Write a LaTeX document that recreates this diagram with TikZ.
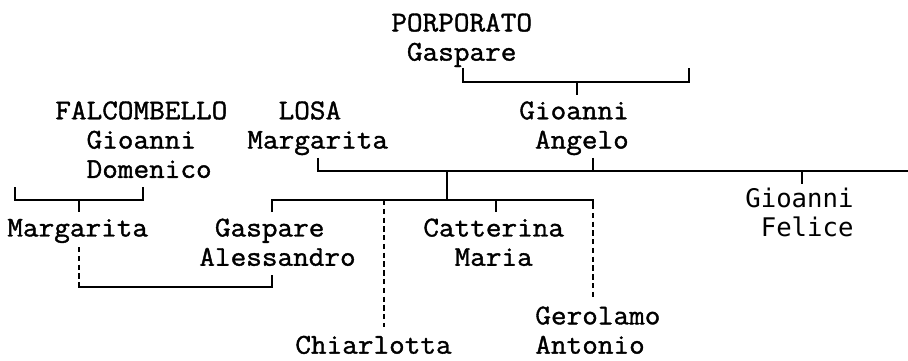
\documentclass[tikz,border=0pt]{standalone}
\usepackage{fontspec}
\newfontfamily\famf[FakeStretch=1.06,FakeBold=1.3]{Latin Modern Mono}
\newfontfamily\felf{DejaVu Sans Mono}
\begin{document}
\begin{tikzpicture}[x=0.02cm,y=-0.02cm,
  person/.style={anchor=north west,inner sep=0pt,align=left,
    font=\famf\fontsize{16.3pt}{16.675pt}\selectfont},
  personb/.style={anchor=north west,inner sep=0pt,align=left,
    font=\felf\fontsize{14.6pt}{16.675pt}\selectfont},
  conn/.style={line width=0.85pt},
  dconn/.style={line width=0.85pt,dash pattern=on 3pt off 2pt}]
\useasboundingbox (0,0) rectangle (908,361);
% people (top of node = first baseline - 20.5)
\node[person] (porporato) at (391,10.5) {\strut PORPORATO\\\hphantom{x}\strut Gaspare};
\node[person] (falco) at (55,98.4) {\strut FALCOMBELLO\\\hphantom{xx}\strut Gioanni\\\hphantom{xx}\strut Domenico};
\node[person] (losa) at (247,98.4) {\hphantom{xx}\strut LOSA\\\strut Margarita};
\node[person] (angelo) at (519,98.4) {\strut Gioanni\\\hphantom{x}\strut Angelo};
\node[personb] (felice) at (745,186.3) {\strut Gioanni\\\hphantom{x}\strut Felice};
\node[person] (margF) at (7,215.6) {\strut Margarita};
\node[person] (gaspA) at (199,215.6) {\hphantom{x}\strut Gaspare\\\strut Alessandro};
\node[person] (catt) at (423,215.6) {\strut Catterina\\\hphantom{xx}\strut Maria};
\node[person] (ger) at (535,303.5) {\strut Gerolamo\\\strut Antonio};
\node[person] (chiar) at (295,332.8) {\strut Chiarlotta};
% Porporato family
\coordinate (pL) at (463,68);
\coordinate (pR) at (689,68);
\coordinate (pM) at (577,82);
\draw[conn] (pL) -- ++(0,14) -| (pR);
\draw[conn] (pM) -- ++(0,13);
% Falcombello family
\coordinate (fL) at (15,187);
\coordinate (fR) at (143,187);
\coordinate (fM) at (79,200);
\draw[conn] (fL) -- ++(0,13) -| (fR);
\draw[conn] (fM) -- ++(0,12);
% Losa - Angelo marriage
\coordinate (lS) at (318,158);
\coordinate (aS) at (593,158);
\coordinate (mE) at (908,171);
\coordinate (mC) at (447,171);
\coordinate (mF) at (802,171);
\draw[conn] (lS) |- (mE);
\draw[conn] (aS) -- (aS |- mE);
\draw[conn] (mF) -- ++(0,13);
\draw[conn] (mC) -- ++(0,29);
% children line
\coordinate (cL) at (272,212);
\coordinate (cR) at (593,200);
\coordinate (cCh) at (384,200);
\coordinate (cCa) at (496,200);
\draw[conn] (cL) |- (cR) -- ++(0,4) coordinate (cRd);
\draw[dconn] (cRd) -- (593,298) coordinate (gerTop);
\draw[dconn] (cCh) -- (384,327) coordinate (chTop);
\draw[conn] (cCa) -- ++(0,12);
% Margarita - Gaspare Alessandro marriage
\coordinate (wL) at (79,247);
\coordinate (wLc) at (79,283);
\coordinate (wR) at (272,275);
\draw[dconn] (wL) -- (wLc);
\draw[conn] (wLc) -- ++(0,4) -| (wR);
\end{tikzpicture}
\end{document}
